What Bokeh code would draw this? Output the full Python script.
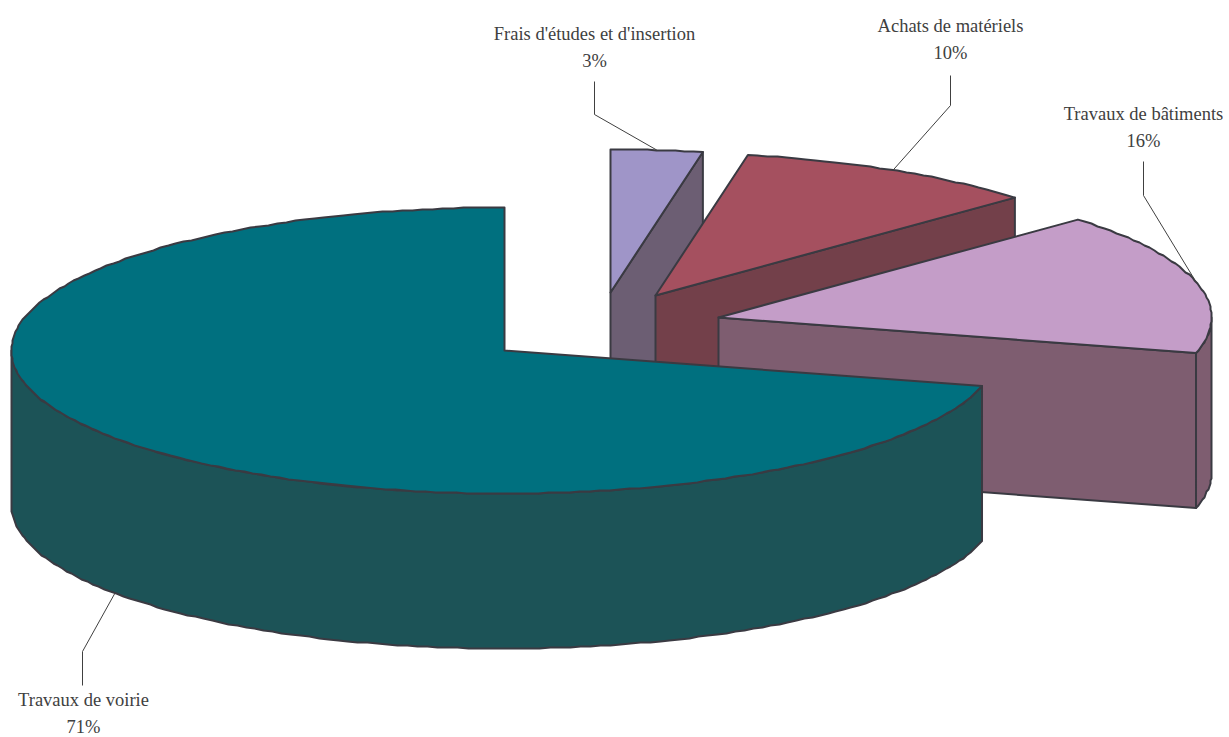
import math

from bokeh.core.properties import value
from bokeh.embed import file_html
from bokeh.models import ColumnDataSource, Range1d
from bokeh.plotting import figure
from bokeh.resources import INLINE

# Budget shares, clockwise from twelve o'clock
categories = ["Frais d'études et d'insertion", "Achats de matériels", "Travaux de bâtiments", "Travaux de voirie"]
shares = [3, 10, 16, 71]

top_colors = ["#9F95C8", "#A5505F", "#C49DC8", "#00707F"]
side_colors = ["#6C5E73", "#73404A", "#7E5D70", "#1C5357"]

# Pie projection and per-slice explosion, in page pixels
RX, RY, DEPTH = 493, 143, 155
centers = [(610, 292), (655, 295), (718, 317), (504, 350)]
label_xy = [(594, 33), (950, 25), (1143, 113), (83, 699)]
elbows = [(594, 81, 114), (950, 75, 105), (1143, 161, 195), (82, 685, 651)]
drops = [0, 0, 0, DEPTH]

OUTLINE = "#3A3A42"
INK = "#404040"
FONT = "Liberation Serif"


def rim(center, theta):
    """Project an angle (degrees clockwise from the top) on to a slice's top face."""
    t = math.radians(theta)
    return center[0] + RX * math.sin(t), center[1] - RY * math.cos(t)


def arc(center, start, stop, step=1.2):
    """Rim points, snapped to whole pixels so the edge keeps a slightly rough look."""
    n = max(2, int(abs(stop - start) / step) + 1)
    pts = []
    for i in range(n + 1):
        x, y = rim(center, start + (stop - start) * i / n)
        if 0 < i < n:
            x, y = round(x), round(y)
        pts.append((x, y))
    return pts


p = figure(
    width=1229, height=737, output_backend="svg", toolbar_location=None,
    x_range=Range1d(0, 1229), y_range=Range1d(737, 0),
    min_border=0, outline_line_color=None, background_fill_color="white",
)
p.axis.visible = False
p.grid.visible = False


def poly(pts, color):
    p.patch([q[0] for q in pts], [q[1] for q in pts], fill_color=color,
            line_color=OUTLINE, line_width=2, line_join="round")


# Slices are painted back to front, sides first and then the top face
start = 0.0
mids = []
for share, center, top, side in zip(shares, centers, top_colors, side_colors):
    stop = start + share * 3.6
    mids.append((start + stop) / 2)

    # Flat cut face along the slice's clockwise edge
    if stop < 180:
        e = rim(center, stop)
        poly([center, e, (e[0], e[1] + DEPTH), (center[0], center[1] + DEPTH)], side)

    # Curved outer wall, for the part of the rim facing the viewer
    a, b = max(start, 90), min(stop, 270)
    if b > a:
        edge = arc(center, a, b)
        poly(edge + [(x, y + DEPTH) for x, y in reversed(edge)], side)

    poly([center] + arc(center, start, stop), top)
    start = stop

# Leader lines from the middle of each slice's rim to its label
for mid, center, (ex, ey0, ey1), drop in zip(mids, centers, elbows, drops):
    ax, ay = rim(center, mid)
    p.line([ex, ex, ax], [ey0, ey1, ay + drop], line_color=INK, line_width=1)

# Two-line labels: name above, share below
names = ColumnDataSource(dict(x=[q[0] for q in label_xy], y=[q[1] for q in label_xy], t=categories))
pcts = ColumnDataSource(dict(x=[q[0] for q in label_xy], y=[q[1] + 27 for q in label_xy],
                             t=[f"{s}%" for s in shares]))
for src in (names, pcts):
    p.text("x", "y", text="t", source=src, text_align="center", text_baseline="middle",
           text_font=value(FONT), text_font_size="18.5px", text_color=INK)

open("out.html", "w").write(file_html(p, INLINE))
